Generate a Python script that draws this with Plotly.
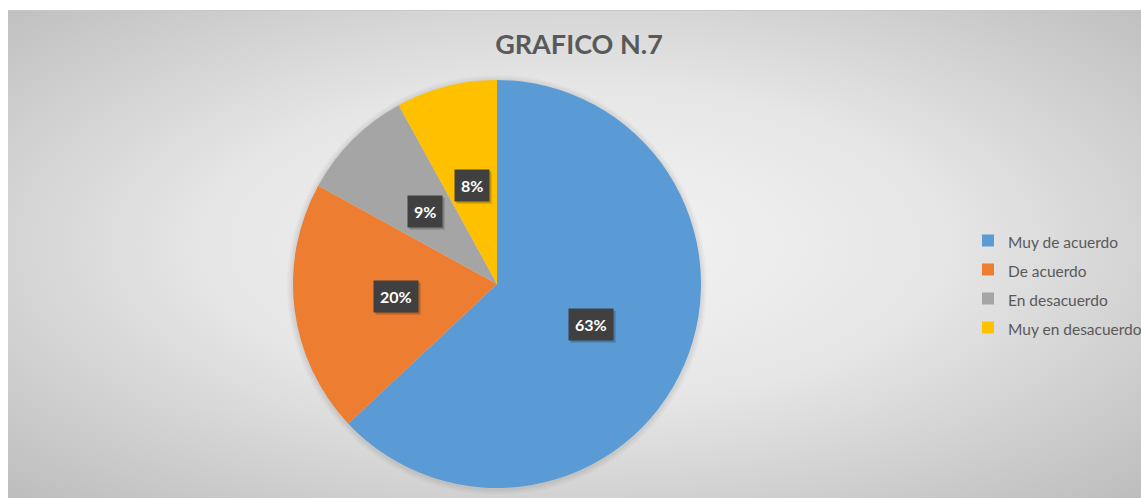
import math
import base64
import plotly.graph_objects as go

# ---- data ----
categories = ["Muy de acuerdo", "De acuerdo", "En desacuerdo", "Muy en desacuerdo"]
values = [63, 20, 9, 8]
colors = ["#5B9BD5", "#ED7D31", "#A5A5A5", "#FFC000"]
title_text = "GRAFICO N.7"

# figure fills the whole page (body margin removed below)
W, H = 1141, 498


def fx(px):
    return px / W


def fy(py):
    return 1 - py / H


# chart area and pie placement, in page pixels
area_x0, area_y0, area_x1, area_y1 = 8, 10, 1141, 498
pie_cx, pie_cy, pie_r = 497, 284, 204

dom_x = [fx(pie_cx - pie_r), fx(pie_cx + pie_r)]
dom_y = [fy(pie_cy + pie_r), fy(pie_cy - pie_r)]

fig = go.Figure()
fig.add_trace(go.Pie(
    labels=[f'<span style="font-size:15.5px">{c}</span>' for c in categories],
    values=values,
    sort=False,
    direction="clockwise",
    rotation=0,
    marker=dict(colors=colors, line=dict(width=0)),
    textinfo="none",
    hoverinfo="percent",
    domain=dict(x=dom_x, y=dom_y),
))

# background radial gradient over the chart area
gw, gh = area_x1 - area_x0, area_y1 - area_y0
svg = (
    f'<svg xmlns="http://www.w3.org/2000/svg" width="{gw}" height="{gh}" '
    f'viewBox="0 0 {gw} {gh}" preserveAspectRatio="none">'
    '<defs><radialGradient id="g" cx="0.5" cy="0.48" r="0.72" fx="0.5" fy="0.48">'
    '<stop offset="0" stop-color="#f4f4f4"/>'
    '<stop offset="0.45" stop-color="#e6e6e6"/>'
    '<stop offset="1" stop-color="#bdbdbd"/>'
    '</radialGradient></defs>'
    f'<rect x="0" y="0" width="{gw}" height="{gh}" fill="url(#g)"/>'
    f'<rect x="0" y="0" width="{gw}" height="1" fill="#c8c8c8"/>'
    '</svg>'
)
src = "data:image/svg+xml;base64," + base64.b64encode(svg.encode()).decode()
images = [dict(
    source=src, xref="paper", yref="paper",
    x=fx(area_x0), y=fy(area_y0),
    sizex=gw / W, sizey=gh / H,
    xanchor="left", yanchor="top", sizing="stretch", layer="below",
)]

# soft halo around the pie
shapes = []
for extra, alpha in [(6, 0.025), (4, 0.03), (2, 0.035)]:
    shapes.append(dict(
        type="circle", xref="paper", yref="paper", layer="below",
        x0=fx(pie_cx - pie_r - extra), x1=fx(pie_cx + pie_r + extra),
        y0=fy(pie_cy + pie_r + extra + 1), y1=fy(pie_cy - pie_r - extra + 1),
        fillcolor=f"rgba(0,0,0,{alpha})", line=dict(width=0),
    ))

# data labels: dark boxes at mid-angle, half radius
annotations = []
total = sum(values)
cum = 0
for v in values:
    theta = math.radians((cum + v / 2) / total * 360)
    cum += v
    rr = 0.5 * pie_r
    px = pie_cx + rr * math.sin(theta)
    py = pie_cy - rr * math.cos(theta)
    label = f"{round(v / total * 100)}%"
    annotations.append(dict(
        x=fx(px + 2), y=fy(py + 2), xref="paper", yref="paper",
        text=f"<b>{label}</b>", showarrow=False,
        font=dict(family="Lato, Open Sans, sans-serif", size=16, color="rgba(0,0,0,0)"),
        bgcolor="rgba(0,0,0,0.22)", borderpad=6,
    ))
    annotations.append(dict(
        x=fx(px), y=fy(py), xref="paper", yref="paper",
        text=f"<b>{label}</b>", showarrow=False,
        font=dict(family="Lato, Open Sans, sans-serif", size=16, color="#ffffff"),
        bgcolor="#404040", borderpad=6,
    ))

fig.update_layout(
    width=W, height=H,
    margin=dict(l=0, r=0, t=0, b=0, autoexpand=False),
    paper_bgcolor="#ffffff",
    plot_bgcolor="rgba(0,0,0,0)",
    images=images,
    shapes=shapes,
    annotations=annotations,
    title=dict(
        text=f"<b>{title_text}</b>",
        x=fx(579), xanchor="center",
        y=fy(45), yanchor="middle",
        font=dict(family="Lato, Open Sans, sans-serif", size=27, color="#595959"),
    ),
    showlegend=True,
    legend=dict(
        x=fx(968), xanchor="left",
        y=fy(284), yanchor="middle",
        font=dict(family="Lato, Open Sans, sans-serif", size=20, color="#595959"),
        bgcolor="rgba(0,0,0,0)",
        itemwidth=30,
    ),
)

fig.write_html(
    "out.html",
    config={"displayModeBar": False},
    post_script="document.body.style.margin='0';document.body.style.overflow='hidden';",
)
